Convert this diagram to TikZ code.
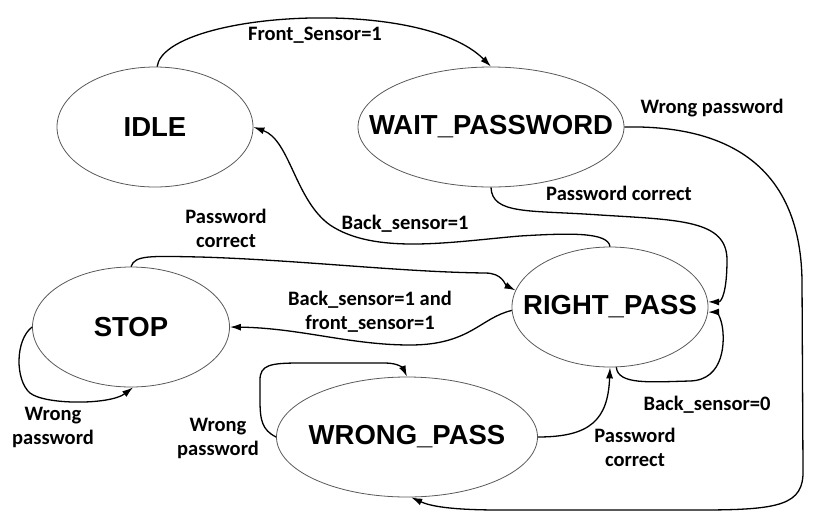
\documentclass[tikz,border=0pt]{standalone}
\usepackage{fontspec}
\setmainfont{Liberation Sans}
\newfontfamily\lblfont{Carlito}
\usetikzlibrary{shapes.geometric,arrows.meta}
\begin{document}
\begin{tikzpicture}[x=1pt,y=-1pt,
  state/.style={draw=black!65,line width=0.8pt,ellipse,inner sep=0pt,font=\fontsize{27.5}{32}\selectfont\bfseries},
  edge/.style={draw=black,line width=1.3pt,-{Latex[length=11pt,width=7pt]}},
  lbl/.style={font=\lblfont\fontsize{20.5}{24}\selectfont\bfseries,align=center,inner sep=0pt}]
\useasboundingbox (0,0) rectangle (820,515);
\node[state,minimum width=196pt,minimum height=120pt] (idle) at (155,127) {\makebox[0pt]{IDLE}};
\node[state,minimum width=266pt,minimum height=120pt] (wait) at (491,127) {\makebox[0pt]{WAIT\_PASSWORD}};
\node[state,minimum width=197pt,minimum height=120pt] (stop) at (131,327) {\makebox[0pt]{STOP}};
\node[state,minimum width=196pt,minimum height=120pt] (right) at (610,307) {\makebox[0pt]{RIGHT\_PASS}};
\node[state,minimum width=261pt,minimum height=120pt] (wrong) at (407,437) {\makebox[0pt]{WRONG\_PASS}};

\node[lbl] (l1) at (315,35) {Front\_Sensor=1};
\node[lbl] (l2) at (712,108) {Wrong password};
\node[lbl] (l3) at (619,193) {Password correct};
\node[lbl] (l4) at (405,224) {Back\_sensor=1};
\node[lbl] (l5) at (226,228) {Password\\correct};
\node[lbl] (l6) at (370,312) {Back\_sensor=1 and\\front\_sensor=1};
\node[lbl] (l7) at (53,427) {Wrong\\password};
\node[lbl] (l8) at (218,438) {Wrong\\password};
\node[lbl] (l9) at (707,405) {Back\_sensor=0};
\node[lbl] (l10) at (635,447) {Password\\correct};

% IDLE -> WAIT
\draw[edge] (idle.88) .. controls (165,12) and (420,-5) .. (wait.north);
% WAIT -> WRONG
\draw[edge] (wait.east) .. controls (720,125) and (800,160) .. (802,280) -- (803,470)
  .. controls (804,505) and (780,510) .. (700,510) -- (500,510)
  .. controls (450,510) and (430,506) .. (wrong.-86);
% WAIT -> RIGHT
\draw[edge] (wait.south) .. controls (492,215) and (530,210) .. (600,215)
  .. controls (680,220) and (727,220) .. (727,260)
  .. controls (727,290) and (722,302) .. (right.3);
% RIGHT -> IDLE
\draw[edge] (right.north) .. controls (608,232) and (570,233) .. (520,236)
  .. controls (450,242) and (375,255) .. (330,225)
  .. controls (295,200) and (290,140) .. (idle.east);
% STOP -> RIGHT
\draw[edge] (stop.north) .. controls (135,255) and (150,256) .. (200,257)
  .. controls (300,260) and (400,272) .. (485,273)
  .. controls (503,273) and (505,285) .. (right.170);
% RIGHT -> STOP
\draw[edge] (right.182) .. controls (480,318) and (470,345) .. (410,345)
  .. controls (350,345) and (300,328) .. (stop.east);
% STOP self
\draw[edge] (stop.west) .. controls (15,340) and (15,380) .. (30,393)
  .. controls (45,405) and (110,405) .. (stop.-88);
% WRONG self
\draw[edge] (wrong.west) .. controls (262,430) and (260,420) .. (260,400) -- (260,380)
  .. controls (260,365) and (270,363) .. (300,363) -- (385,363)
  .. controls (398,363) and (403,368) .. (wrong.north);
% WRONG -> RIGHT
\draw[edge] (wrong.east) .. controls (590,437) and (608,420) .. (right.south);
% RIGHT self
\draw[edge] (right.-84) .. controls (618,385) and (650,382) .. (690,381)
  .. controls (725,380) and (725,340) .. (722,325)
  .. controls (720,315) and (716,312) .. (right.-3);
\end{tikzpicture}
\end{document}
